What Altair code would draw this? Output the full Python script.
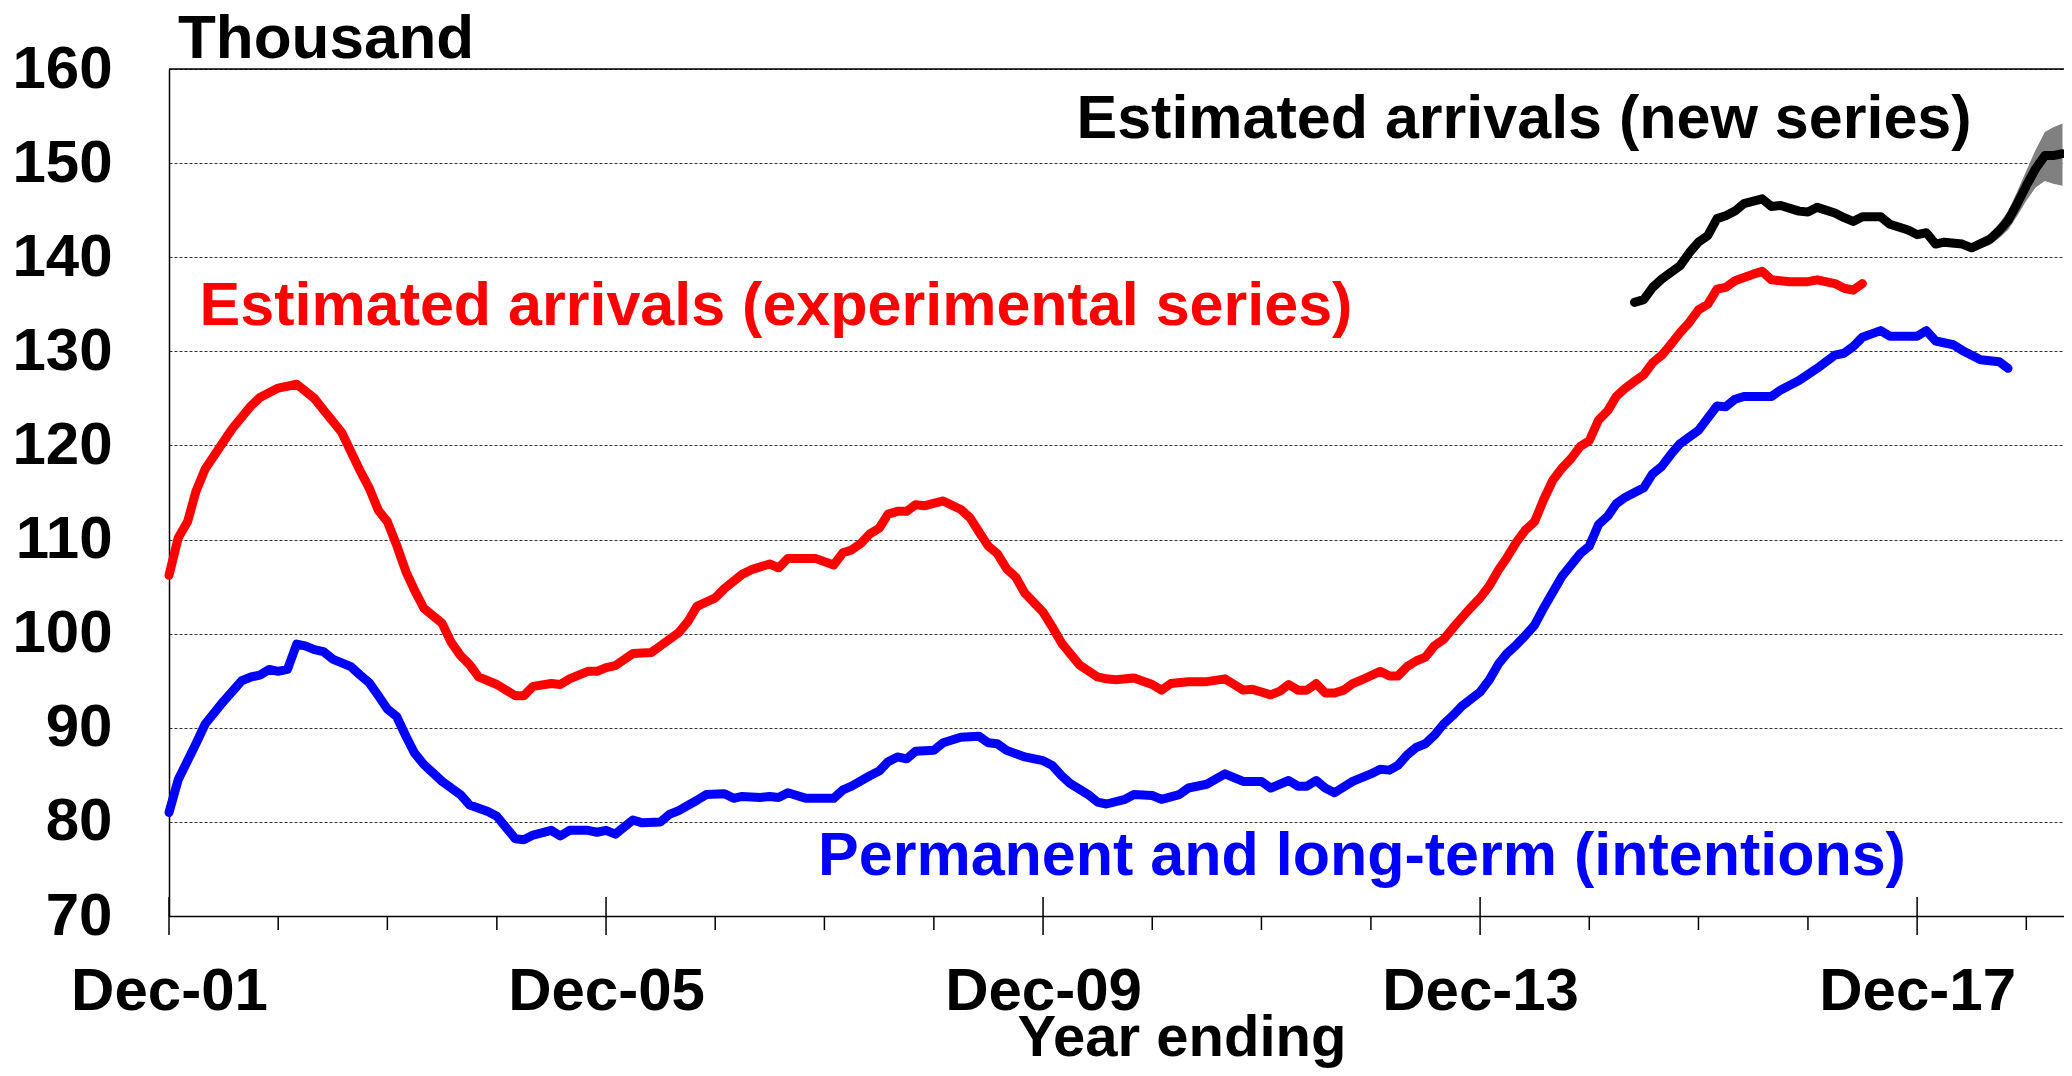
import altair as alt
import pandas as pd

# ---- data (months counted from Dec-2001) ----
red_month = [0,1,2,3,4,6,7,9,10,12,14,16,17,19,21,22,23,24,25,26,27,28,30,31,32,33,34,36,37,38,39,40,42,43,44,46,47,48,49,51,53,54,56,57,58,60,61,63,64,66,67,68,71,73,74,75,76,77,78,79,80,81,82,83,85,87,88,89,90,91,92,93,94,96,97,98,99,100,102,103,104,106,108,109,110,112,114,116,117,118,119,121,122,123,124,125,126,127,128,129,130,131,133,134,135,136,137,138,139,140,141,142,143,144,145,146,147,148,149,150,151,152,153,154,155,156,157,158,159,160,161,162,163,164,165,166,167,168,169,170,171,172,174,175,176,178,180,181,183,184,185,186]
red_value = [106.2,110.2,111.9,115.1,117.5,120.4,121.8,124.2,125.1,126.1,126.5,125.0,123.8,121.4,117.3,115.5,113.1,111.9,109.4,106.6,104.6,102.7,101.1,99.1,97.7,96.7,95.4,94.6,94.0,93.4,93.4,94.4,94.7,94.6,95.2,96.0,96.0,96.4,96.6,97.9,98.0,98.7,100.1,101.3,102.9,103.8,104.8,106.3,106.8,107.4,107.0,108.0,108.0,107.3,108.6,108.9,109.6,110.6,111.2,112.7,113.0,113.0,113.7,113.6,114.1,113.2,112.3,110.8,109.3,108.5,106.9,106.0,104.3,102.3,100.7,99.0,97.9,96.7,95.4,95.2,95.1,95.3,94.6,94.0,94.7,94.9,94.9,95.2,94.6,94.0,94.1,93.5,93.9,94.6,94.0,94.0,94.7,93.7,93.7,94.0,94.7,95.1,96.0,95.5,95.5,96.5,97.1,97.5,98.7,99.4,100.6,101.7,102.8,103.8,105.1,106.8,108.1,109.7,111.0,111.9,114.2,116.3,117.6,118.6,119.9,120.5,122.7,123.7,125.2,126.1,126.8,127.5,128.8,129.6,130.8,132.0,133.1,134.4,135.0,136.6,136.8,137.5,138.2,138.5,137.6,137.4,137.4,137.6,137.2,136.7,136.5,137.2]

blue_month = [0,1,2,3,4,6,8,9,10,11,12,13,14,15,16,17,18,20,21,22,23,24,25,26,27,28,30,32,33,35,36,37,38,39,40,42,43,44,46,47,48,49,51,52,54,55,56,58,59,61,62,63,65,66,67,68,70,73,74,75,77,78,79,80,81,82,84,85,87,89,90,91,92,94,96,97,98,99,101,102,103,105,106,108,109,111,112,114,116,118,120,121,123,124,125,126,127,128,130,132,133,134,135,136,137,138,139,140,141,142,144,145,146,147,148,149,150,151,152,153,155,156,157,158,159,160,162,163,164,165,166,168,169,170,171,172,173,176,177,179,181,183,184,185,186,188,189,191,192,193,194,196,197,199,201,202]
blue_value = [81.0,84.5,86.5,88.3,90.4,92.8,95.0,95.4,95.6,96.2,96.0,96.2,98.9,98.7,98.3,98.1,97.3,96.5,95.6,94.8,93.4,92.0,91.2,89.1,87.3,86.1,84.3,82.9,81.8,81.1,80.6,79.4,78.2,78.1,78.6,79.1,78.5,79.1,79.1,78.9,79.1,78.7,80.2,79.9,80.0,80.8,81.2,82.3,82.9,83.0,82.5,82.7,82.6,82.7,82.6,83.1,82.5,82.5,83.4,83.8,84.9,85.4,86.4,86.9,86.7,87.5,87.6,88.4,89.0,89.1,88.4,88.3,87.6,86.9,86.5,86.0,84.9,84.1,82.9,82.1,81.9,82.4,82.9,82.8,82.4,82.9,83.6,84.0,85.1,84.3,84.3,83.6,84.4,83.8,83.8,84.4,83.6,83.1,84.3,85.1,85.6,85.5,86.0,87.1,87.9,88.3,89.2,90.4,91.3,92.3,93.8,95.1,96.8,97.9,98.8,99.8,100.9,102.7,104.4,106.1,108.5,109.3,111.6,112.5,113.8,114.5,115.5,117.0,117.8,119.1,120.2,121.6,122.9,124.2,124.1,124.9,125.2,125.2,125.9,126.9,128.2,129.6,129.8,130.5,131.5,132.2,131.6,131.6,131.6,132.2,131.1,130.7,130.1,129.1,128.9,128.2]

black_month = [161,162,163,164,166,167,168,169,170,171,172,173,175,176,177,179,180,181,183,184,185,186,188,189,191,192,193,194,195,197,198,200,201,202,203,204,205,206,207,208]
black_value = [135.2,135.5,136.8,137.7,139.1,140.5,141.6,142.3,144.1,144.4,144.9,145.7,146.2,145.4,145.5,144.9,144.8,145.3,144.7,144.2,143.8,144.3,144.3,143.5,142.9,142.4,142.6,141.4,141.6,141.4,141.0,141.9,142.8,143.9,145.7,147.6,149.4,150.8,150.8,151.0]

band_month = [194,195,197,198,200,201,202,203,204,205,206,207,208]
band_low = [141.2,141.35,141.05,140.55,141.3,142.05,142.9,144.4,146.0,147.4,148.1,147.8,147.6]
band_high = [141.6,141.85,141.75,141.45,142.5,143.55,144.9,147.0,149.2,151.4,153.3,153.8,154.2]

y_ticks = [70, 80, 90, 100, 110, 120, 130, 140, 150, 160]
major_tick_years = [2001, 2005, 2009, 2013, 2017]
minor_tick_years = [2002, 2003, 2004, 2006, 2007, 2008, 2010, 2011, 2012, 2014, 2015, 2016, 2018]

label_thousand = "Thousand"
label_new = "Estimated arrivals (new series)"
label_exp = "Estimated arrivals (experimental series)"
label_plt = "Permanent and long-term (intentions)"
label_xtitle = "Year ending"

# ---- helpers ----
START = pd.Timestamp(2001, 12, 1)


def month_dates(months):
    return [(START + pd.DateOffset(months=int(m))).strftime("%Y-%m-%dT00:00:00") for m in months]


def series_df(months, values):
    return pd.DataFrame({"date": month_dates(months), "value": values})


red_df = series_df(red_month, red_value)
blue_df = series_df(blue_month, blue_value)
black_df = series_df(black_month, black_value)
band_df = pd.DataFrame({"date": month_dates(band_month), "low": band_low, "high": band_high})
major_df = pd.DataFrame({"date": [f"{y}-12-01T00:00:00" for y in major_tick_years]})
minor_df = pd.DataFrame({"date": [f"{y}-12-01T00:00:00" for y in minor_tick_years]})

W, H = 1895, 847
FONT = "Liberation Sans"

x_scale = alt.Scale(domain=[alt.DateTime(year=2001, month=12, date=1),
                            alt.DateTime(year=2019, month=4, date=6)], nice=False)
y_scale = alt.Scale(domain=[70, 160], nice=False, zero=False)

x_axis = alt.Axis(
    values=[alt.DateTime(year=y, month=12, date=1) for y in major_tick_years],
    format="%b-%y", title=None, ticks=False, tickSize=0, grid=False,
    labelFont=FONT, labelFontSize=60, labelFontWeight="bold", labelColor="black",
    labelPadding=93, labelBaseline="alphabetic", labelFlush=False, labelOverlap=False,
    labelBound=False, labelLimit=0, domainColor="black", domainWidth=1.5,
)
y_axis = alt.Axis(
    values=y_ticks, title=None, ticks=False, tickSize=0,
    labelFont=FONT, labelFontSize=60, labelFontWeight="bold", labelColor="black",
    labelPadding=57, labelFlush=False, labelOverlap=False, labelBound=False, labelLimit=0,
    grid=True, gridColor="#333333", gridDash=[3, 2], gridWidth=1.2,
    domainColor="black", domainWidth=1.5,
)

x_enc = alt.X("date:T", scale=x_scale, axis=x_axis)

line_style = dict(strokeWidth=9, strokeCap="round", strokeJoin="round")

red = alt.Chart(red_df).mark_line(color="#ff0000", **line_style).encode(
    x=x_enc, y=alt.Y("value:Q", scale=y_scale, axis=y_axis))
blue = alt.Chart(blue_df).mark_line(color="#0000ff", **line_style).encode(
    x="date:T", y="value:Q")
band = alt.Chart(band_df).mark_area(color="#808080", opacity=1).encode(
    x="date:T", y="low:Q", y2="high:Q")
black = alt.Chart(black_df).mark_line(color="black", **line_style).encode(
    x="date:T", y="value:Q")

major_ticks = alt.Chart(major_df).mark_rule(color="black", strokeWidth=1.5).encode(
    x="date:T", y=alt.value(H - 19), y2=alt.value(H + 19))
minor_ticks = alt.Chart(minor_df).mark_rule(color="black", strokeWidth=1.5).encode(
    x="date:T", y=alt.value(H), y2=alt.value(H + 14))
top_border = alt.Chart(pd.DataFrame({"k": [0]})).mark_rule(color="black", strokeWidth=1.5).encode(
    x=alt.value(0), x2=alt.value(W), y=alt.value(0))


def text_layer(txt, x, y, color, align="center", size=61):
    return alt.Chart(pd.DataFrame({"t": [txt]})).mark_text(
        font=FONT, fontSize=size, fontWeight="bold", color=color,
        align=align, baseline="alphabetic").encode(
        text="t:N", x=alt.value(x), y=alt.value(y))


texts = [
    text_layer(label_thousand, 9, -11, "black", align="left", size=62),
    text_layer(label_new, 1355, 69, "black"),
    text_layer(label_exp, 607, 256, "#ff0000"),
    text_layer(label_plt, 1193, 806, "#0000ff"),
    text_layer(label_xtitle, 1013, 987, "black", size=58),
]

chart = alt.layer(
    red, blue, band, black, major_ticks, minor_ticks, top_border, *texts
).properties(
    width=W, height=H,
    autosize=alt.AutoSizeParams(type="none"),
    padding={"left": 161, "top": 61, "right": 0, "bottom": 152},
).configure_view(stroke=None).configure(background="white")

chart.save("out.html", embed_options={"renderer": "svg", "actions": False})
